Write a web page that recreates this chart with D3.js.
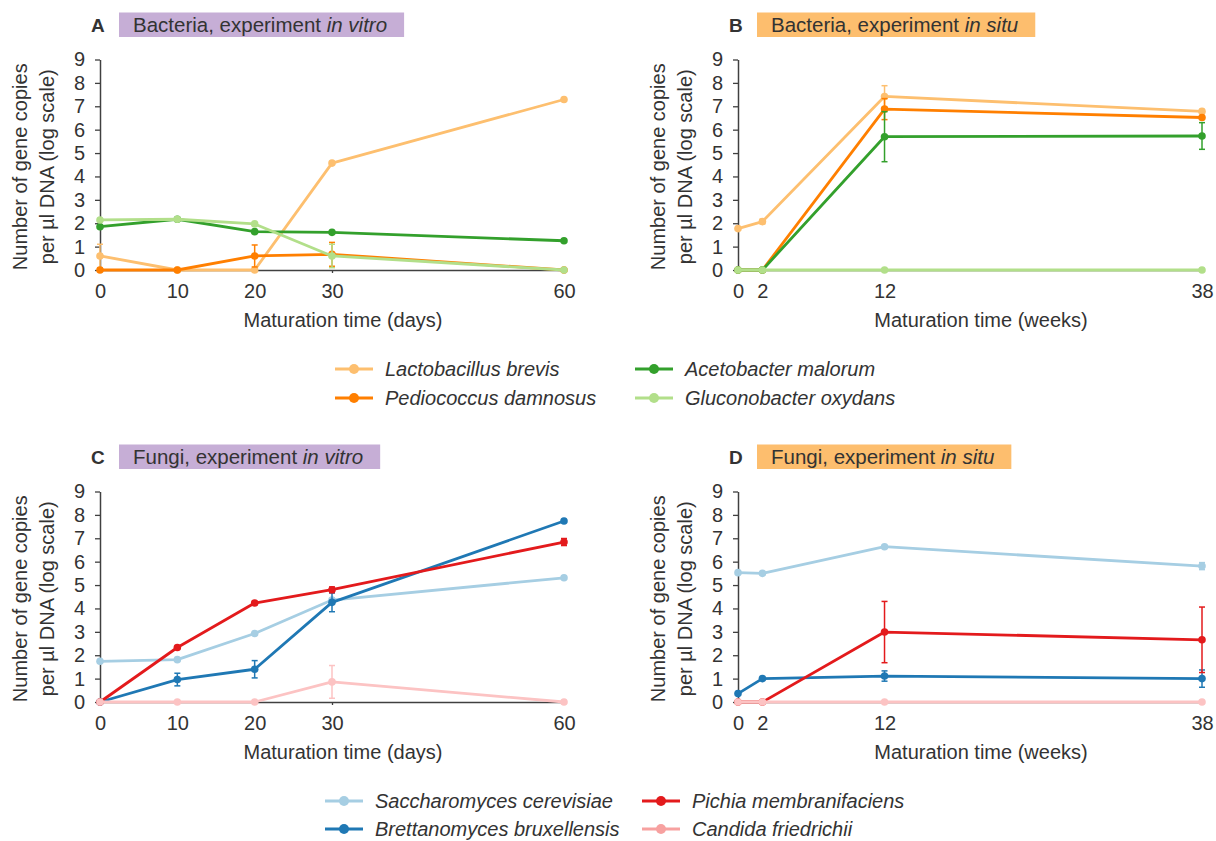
<!DOCTYPE html>
<html lang="en">
<head>
<meta charset="UTF-8">
<title>Gene copies during maturation</title>
<script src="https://d3js.org/d3.v7.min.js"></script>
<style>
  body { margin: 0; background: #fff; }
  svg text { font-family: "Liberation Sans", Arial, sans-serif; fill: #333; }
</style>
</head>
<body>
<div id="chart"></div>
<script>
// time points
var daysVitro = [0, 10, 20, 30, 60];
var weeksSitu = [0, 2, 12, 38];
var yTicks = [0, 1, 2, 3, 4, 5, 6, 7, 8, 9];

// species
var bacteria = ["Lactobacillus brevis", "Pediococcus damnosus", "Acetobacter malorum", "Gluconobacter oxydans"];
var fungi = ["Saccharomyces cerevisiae", "Brettanomyces bruxellensis", "Pichia membranifaciens", "Candida friedrichii"];
var bacteriaColors = ["#fdbf6f", "#ff7f00", "#33a02c", "#b2df8a"];
var fungiColors = ["#a6cee3", "#1f78b4", "#e31a1c", "#fcc3c3"];
var fungiLegendColors = ["#a6cee3", "#1f78b4", "#e31a1c", "#f7a1a0"];

// A: bacteria in vitro (one row per species, log copies per ul)
var bacVitro = [
  [0.6, 0, 0, 4.57, 7.29],
  [0, 0, 0.6, 0.67, 0],
  [1.85, 2.17, 1.64, 1.61, 1.25],
  [2.14, 2.17, 1.97, 0.6, 0]
];
var bacVitroErr = [
  [0.5, 0, 0, 0, 0],
  [0, 0, 0.47, 0.51, 0],
  [0, 0, 0, 0, 0],
  [0, 0, 0, 0.5, 0]
];

// B: bacteria in situ
var bacSitu = [
  [1.77, 2.07, 7.42, 6.78],
  [0, 0, 6.88, 6.52],
  [0, 0, 5.7, 5.73],
  [0, 0, 0, 0]
];
var bacSituErr = [
  [0, 0.1, 0.46, 0.08],
  [0, 0, 0.45, 0.08],
  [0, 0, 1.07, 0.57],
  [0, 0, 0, 0]
];

// C: fungi in vitro
var fungVitro = [
  [1.74, 1.81, 2.93, 4.36, 5.31],
  [0, 0.96, 1.4, 4.26, 7.74],
  [0, 2.33, 4.23, 4.8, 6.84],
  [0, 0, 0, 0.86, 0]
];
var fungVitroErr = [
  [0, 0, 0, 0, 0],
  [0, 0.27, 0.37, 0.4, 0.05],
  [0, 0.05, 0.07, 0.12, 0.15],
  [0, 0, 0, 0.7, 0]
];

// D: fungi in situ
var fungSitu = [
  [5.53, 5.5, 6.64, 5.81],
  [0.36, 1.0, 1.11, 1.0],
  [0, 0, 2.99, 2.66],
  [0, 0, 0, 0]
];
var fungSituErr = [
  [0.05, 0.05, 0.05, 0.15],
  [0.05, 0.05, 0.22, 0.37],
  [0, 0, 1.31, 1.4],
  [0, 0, 0, 0]
];

var width = 1216, height = 841;
var plotW = 464, plotH = 210.5;

var svg = d3.select("#chart").append("svg")
  .attr("width", width)
  .attr("height", height);

var panels = [
  {letter: "A", group: "Bacteria", kind: "in vitro", box: "#c6aed6", x: 100, y: 270, t: daysVitro, unit: "days", vals: bacVitro, errs: bacVitroErr, colors: bacteriaColors},
  {letter: "B", group: "Bacteria", kind: "in situ", box: "#fdbe6e", x: 738, y: 270, t: weeksSitu, unit: "weeks", vals: bacSitu, errs: bacSituErr, colors: bacteriaColors},
  {letter: "C", group: "Fungi", kind: "in vitro", box: "#c6aed6", x: 100, y: 702, t: daysVitro, unit: "days", vals: fungVitro, errs: fungVitroErr, colors: fungiColors},
  {letter: "D", group: "Fungi", kind: "in situ", box: "#fdbe6e", x: 738, y: 702, t: weeksSitu, unit: "weeks", vals: fungSitu, errs: fungSituErr, colors: fungiColors}
];

function drawPanel(p) {
  var top = p.y - plotH;

  // title box and panel letter
  var tg = svg.append("g");
  var boxRect = tg.append("rect").attr("fill", p.box);
  var title = tg.append("text")
    .attr("x", p.x + 33)
    .attr("y", top - 28)
    .style("font-size", "20.5px");
  title.append("tspan").text(p.group + ", experiment ");
  title.append("tspan").style("font-style", "italic").text(p.kind);
  var bb = title.node().getBBox();
  boxRect
    .attr("x", bb.x - 14)
    .attr("y", top - 47)
    .attr("width", bb.width + 31)
    .attr("height", 24.5);
  tg.append("text")
    .attr("x", p.x - 9)
    .attr("y", top - 28)
    .style("font-size", "19px")
    .style("font-weight", "bold")
    .text(p.letter);

  var g = svg.append("g").attr("transform", "translate(" + p.x + "," + top + ")");

  var x = d3.scaleLinear().domain([0, d3.max(p.t)]).range([0, plotW]);
  var y = d3.scaleLinear().domain([0, 9]).range([plotH, 0]);

  // axes
  var yAxis = g.append("g")
    .call(d3.axisLeft(y).tickValues(yTicks).tickSize(5).tickSizeOuter(0).tickPadding(10));
  var xAxis = g.append("g")
    .attr("transform", "translate(0," + plotH + ")")
    .call(d3.axisBottom(x).tickValues(p.t).tickSize(3).tickSizeOuter(0).tickPadding(11));
  [yAxis, xAxis].forEach(function(a) {
    a.select(".domain").attr("stroke", "#404040").attr("stroke-width", 1.5);
    a.selectAll(".tick line").attr("stroke", "#404040").attr("stroke-width", 1.3);
    a.selectAll(".tick text").style("font-size", "20px").attr("fill", "#333");
  });

  // axis titles
  g.append("text")
    .attr("x", plotW / 2 + 11)
    .attr("y", plotH + 57)
    .attr("text-anchor", "middle")
    .style("font-size", "20px")
    .text("Maturation time (" + p.unit + ")");
  var ty = g.append("text")
    .attr("transform", "translate(-73," + (plotH / 2 + 2) + ") rotate(-90)")
    .attr("text-anchor", "middle")
    .style("font-size", "20px");
  ty.append("tspan").attr("x", 0).attr("y", 0).text("Number of gene copies");
  ty.append("tspan").attr("x", 0).attr("y", 27).text("per \u00b5l DNA (log scale)");

  var line = d3.line().x(function(d) { return x(d[0]); }).y(function(d) { return y(d[1]); });

  p.vals.forEach(function(vals, i) {
    var col = p.colors[i];
    var pts = vals.map(function(v, j) { return [p.t[j], v, p.errs[i][j]]; });
    g.append("path")
      .datum(pts)
      .attr("d", line)
      .attr("fill", "none")
      .attr("stroke", col)
      .attr("stroke-width", 2.8)
      .attr("stroke-linejoin", "round");

    var eb = g.selectAll(".eb" + i).data(pts.filter(function(d) { return d[2] > 0.02; }))
      .enter().append("g").attr("stroke", col).attr("stroke-width", 1.5);
    eb.append("line")
      .attr("x1", function(d) { return x(d[0]); })
      .attr("x2", function(d) { return x(d[0]); })
      .attr("y1", function(d) { return y(d[1] - d[2]); })
      .attr("y2", function(d) { return y(d[1] + d[2]); });
    [-1, 1].forEach(function(s) {
      eb.append("line")
        .attr("x1", function(d) { return x(d[0]) - 3; })
        .attr("x2", function(d) { return x(d[0]) + 3; })
        .attr("y1", function(d) { return y(d[1] + s * d[2]); })
        .attr("y2", function(d) { return y(d[1] + s * d[2]); });
    });

    g.selectAll(".pt" + i).data(pts).enter().append("circle")
      .attr("cx", function(d) { return x(d[0]); })
      .attr("cy", function(d) { return y(d[1]); })
      .attr("r", 3.8)
      .attr("fill", col);
  });
}

panels.forEach(drawPanel);

// legends
function drawLegend(names, colors, cols, rowY) {
  names.forEach(function(n, i) {
    var c = cols[Math.floor(i / 2)];
    var yy = rowY[i % 2];
    var lg = svg.append("g").attr("transform", "translate(" + c + "," + yy + ")");
    lg.append("line").attr("x1", 0).attr("x2", 38).attr("stroke", colors[i]).attr("stroke-width", 3);
    lg.append("circle").attr("cx", 19).attr("r", 5).attr("fill", colors[i]);
    lg.append("text")
      .attr("x", 50)
      .attr("y", 7)
      .style("font-size", "20px")
      .style("font-style", "italic")
      .text(n);
  });
}
drawLegend(bacteria, bacteriaColors, [335, 635], [369, 398]);
drawLegend(fungi, fungiLegendColors, [325, 642], [801, 829]);
</script>
</body>
</html>
